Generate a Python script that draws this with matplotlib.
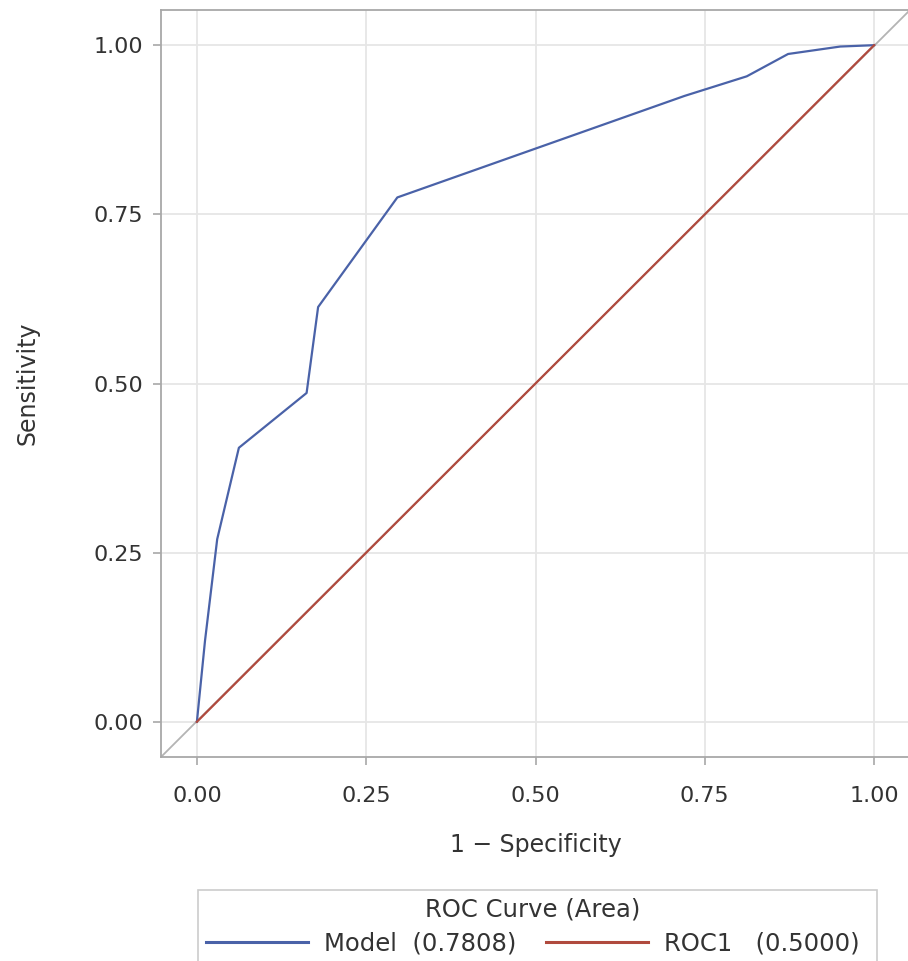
import numpy as np
import matplotlib.pyplot as plt
from matplotlib.patches import Rectangle

# ROC curve points
fpr = [0.0, 0.012, 0.030, 0.062, 0.162, 0.179, 0.296, 0.720, 0.812, 0.873, 0.950, 1.0]
tpr = [0.0, 0.120, 0.270, 0.405, 0.486, 0.613, 0.775, 0.925, 0.954, 0.987, 0.998, 1.0]
ref = [0.0, 1.0]
ticks = [0.0, 0.25, 0.5, 0.75, 1.0]
labels = ["Model  (0.7808)", "ROC1   (0.5000)"]

blue = "#4a62a8"
red = "#b04a3e"
txt = "#333333"

plt.rcParams['font.family'] = ['DejaVu Sans']

W, H = 908, 961
fig = plt.figure(figsize=(W / 100, H / 100), dpi=100)
ax = fig.add_axes([161 / W, 1 - 757 / H, 749 / W, 747 / H])

# diagonale grise sur tout le cadre
ax.plot([-0.053, 1.053], [-0.052, 1.052], color="#b4b4b4", lw=1.3, zorder=2)
l1, = ax.plot(fpr, tpr, color=blue, lw=1.6, zorder=3)
l2, = ax.plot(ref, ref, color=red, lw=1.6, zorder=3)

ax.set_xlim(-0.053, 1.053)
ax.set_ylim(-0.052, 1.052)
ax.set_xticks(ticks)
ax.set_yticks(ticks)
ax.set_xticklabels([f"{t:.2f}" for t in ticks])
ax.set_yticklabels([f"{t:.2f}" for t in ticks])
ax.grid(True, color="#e6e6e6", lw=1.3)
ax.set_axisbelow(True)
for s in ax.spines.values():
    s.set_color("#a8a8a8")
    s.set_linewidth(1.3)
ax.tick_params(colors="#a8a8a8", labelcolor=txt, labelsize=16, length=6, width=1.2)
ax.tick_params(axis="x", pad=15)
ax.tick_params(axis="y", pad=7)

ax.set_xlabel("1 − Specificity", fontsize=17, color=txt, labelpad=19)
ax.set_ylabel("Sensitivity", fontsize=17, color=txt, labelpad=39)

# cadre de la légende (coupé en bas comme dans l'original)
fig.patches.append(Rectangle((198 / W, -0.05), (877 - 198) / W, 0.05 + 1 - 890 / H,
                             transform=fig.transFigure, fill=False,
                             edgecolor="#cccccc", lw=1.2))

leg = fig.legend([l1, l2], labels, ncol=2, title="ROC Curve (Area)",
                 loc="upper center", bbox_to_anchor=(533 / W, 1 - 897 / H),
                 fontsize=17.5, title_fontsize=17.5, frameon=False,
                 handlelength=4.2, handletextpad=0.66, columnspacing=1.2,
                 borderpad=0, labelspacing=0.45, borderaxespad=0)
for t in leg.get_texts():
    t.set_color(txt)
leg.get_title().set_color(txt)
for h in leg.legend_handles:
    h.set_linewidth(2.2)

fig.savefig("out.png", dpi=100)
